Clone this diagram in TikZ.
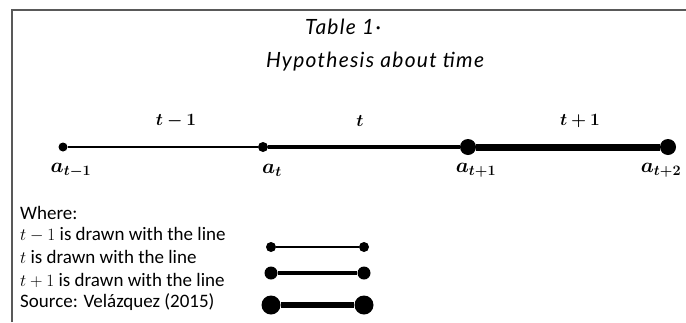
\documentclass[tikz,border=0pt]{standalone}
\usepackage{amsmath}
\usepackage{bm}
\usepackage{fontspec}
\setmainfont{Carlito}
\newfontfamily\titlefont[LetterSpace=6]{Lato Italic}
\begin{document}
\begin{tikzpicture}[x=1pt,y=-1pt,
  dot/.style={circle,fill=black,inner sep=0pt,minimum size=#1},
  lbl/.style={font=\fontsize{17}{20}\selectfont,inner sep=0pt},
  albl/.style={font=\fontsize{20}{24}\selectfont,inner sep=0pt},
  ttl/.style={font=\titlefont\fontsize{21}{24}\selectfont,inner sep=0pt},
  txt/.style={font=\fontsize{19}{22}\selectfont,anchor=west,inner sep=0pt},
  frameline/.style={draw=black!65,line width=1.8pt}]
\useasboundingbox (0,0) rectangle (686,322);
% frame
\coordinate (f1) at (12,322);
\coordinate (f2) at (12,10);
\coordinate (f3) at (686,10);
\draw[frameline] (f1) -- (f2) -- (f3);
% title
\node[ttl] (title1) at (343,27) {Table 1·};
\node[ttl] (title2) at (375,62) {Hypothesis about time};
% timeline
\node[dot=9pt] (p1) at (63,147) {};
\node[dot=10pt] (p2) at (263,147) {};
\node[dot=16pt] (p3) at (468,147) {};
\node[dot=16pt] (p4) at (668,147) {};
\draw[line width=2pt] (p1) -- (p2);
\draw[line width=4pt] (p2) -- (p3);
\draw[line width=7pt] (p3) -- (p4);
\node[lbl] (s1) at (176,121) {$\bm{t-1}$};
\node[lbl] (s2) at (360,121) {$\bm{t}$};
\node[lbl] (s3) at (580,121) {$\bm{t+1}$};
\node[albl] (a1) at (71,170) {$\bm{a_{t-1}}$};
\node[albl] (a2) at (272,170) {$\bm{a_{t}}$};
\node[albl] (a3) at (476,170) {$\bm{a_{t+1}}$};
\node[albl] (a4) at (661,170) {$\bm{a_{t+2}}$};
% legend text
\node[txt] (w0) at (20,213) {Where:};
\node[txt] (w1) at (20,235) {$t-1$ is drawn with the line};
\node[txt] (w2) at (20,257) {$t$ is drawn with the line};
\node[txt] (w3) at (20,280) {$t+1$ is drawn with the line};
\node[txt] (w4) at (20,302) {Source: Velázquez (2015)};
% legend lines
\node[dot=10pt] (l1a) at (271,247) {};
\node[dot=10pt] (l1b) at (364,247) {};
\draw[line width=2.2pt] (l1a) -- (l1b);
\node[dot=13pt] (l2a) at (271,273) {};
\node[dot=13pt] (l2b) at (364,273) {};
\draw[line width=4pt] (l2a) -- (l2b);
\node[dot=19pt] (l3a) at (271,305) {};
\node[dot=19pt] (l3b) at (364,305) {};
\draw[line width=6pt] (l3a) -- (l3b);
\end{tikzpicture}
\end{document}
